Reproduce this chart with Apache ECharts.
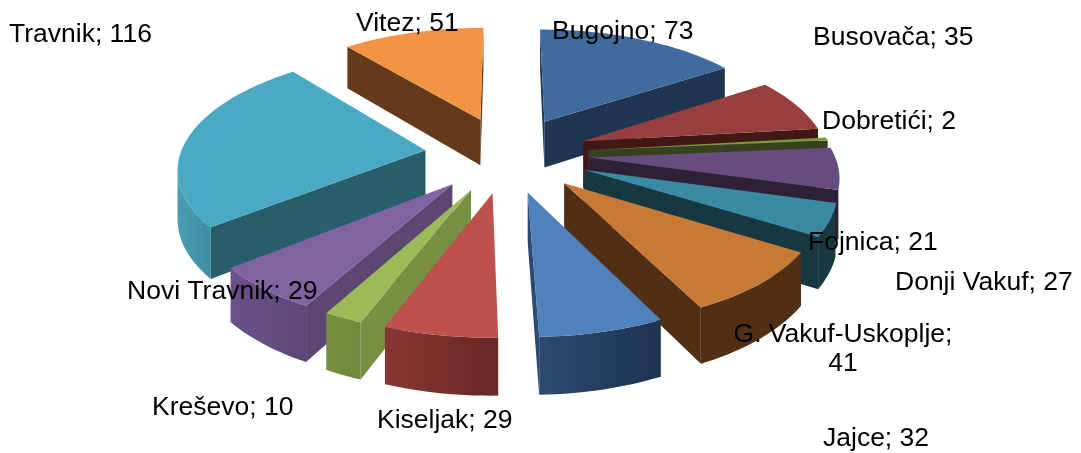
<!DOCTYPE html>
<html><head><meta charset="utf-8">
<style>html,body{margin:0;padding:0;background:#fff}#c{width:1081px;height:453px}</style>
<script src="https://cdn.jsdelivr.net/npm/echarts@6/dist/echarts.min.js"></script>
</head><body><div id="c"></div>
<script>
const names = ['Bugojno','Busovača','Dobretići','Donji Vakuf','Fojnica','G. Vakuf-Uskoplje','Jajce','Kiseljak','Kreševo','Novi Travnik','Travnik','Vitez'];
const values = [73,35,2,27,21,41,32,29,10,29,116,51];
const topColors = ['#3F6B9E','#963F3D','#7A9A3F','#664C7F','#3A8AA3','#C77935','#4F81BD','#BE504D','#9BBB59','#8064A2','#4AAAC4','#F39444'];
const cutColors = ['#1F3551','#421816','#36411F','#2D2136','#173841','#512F15','#2A4A70','#6E2C2A','#779044','#5C4672','#285E6C','#643A1B'];
const outerRight = ['#2A4A70','#5A2624','#4A5C28','#5C4672','#173841','#512F15','#1E3350','#672825','#6F8A3C','#5E4876','#3F8DA2','#C77A38'];
const outerLeft  = ['#2A4A70','#5A2624','#4A5C28','#5C4672','#173841','#512F15','#2D4A70','#893633','#768E42','#6B5189','#4A9DB4','#C77A38'];
const labelTexts = names.map((n,i)=>n+'; '+values[i]);
labelTexts[5] = names[5]+';\n'+values[5];
const labelAnchors = [[552,32,'left'],[813,38,'left'],[822,122,'left'],[895,283,'left'],[808,243,'left'],[843,349,'center'],[823,439,'left'],[377,421,'left'],[152,408,'left'],[127,292,'left'],[9,35,'left'],[356,24,'left']];

const view = {cx:507, cy:154, A:245, B:113, H:47.5, k:0.136, explode:0.336, wallStart:1.87, fontSize:26.5};
const total = values.reduce((a,b)=>a+b,0);
const slices = []; let acc = 0;
values.forEach((v,i)=>{
  const a0 = acc/total*2*Math.PI; acc += v;
  const a1 = acc/total*2*Math.PI; const m=(a0+a1)/2;
  slices.push({i,a0,a1,ox:Math.sin(m)*view.explode,oz:-Math.cos(m)*view.explode});
});
const order = slices.slice().sort((p,q)=>p.oz-q.oz);
function proj(x,z,h){const s=1/(1-view.k*z);return [view.cx+view.A*x*s, view.cy+view.B*z*s+h*view.H*s];}
function poly(points,fill,z2){return {type:'polygon',z2,shape:{points},style:{fill,stroke:'transparent',lineWidth:0}};}
function renderItem(params){
  const sl = order[params.dataIndex], i=sl.i, base=params.dataIndex*1000, children=[];
  const P=a=>[sl.ox+Math.sin(a),sl.oz-Math.cos(a)], O=[sl.ox,sl.oz];
  const n=Math.max(2,Math.ceil((sl.a1-sl.a0)/0.03));
  const arc=[];
  for(let j=0;j<=n;j++){arc.push(sl.a0+(sl.a1-sl.a0)*j/n);}
  const top=[proj(O[0],O[1],0)].concat(arc.map(a=>proj(P(a)[0],P(a)[1],0)));
  const mid=P((sl.a0+sl.a1)/2), mS=proj(mid[0],mid[1],0), oS=proj(O[0],O[1],0);
  [sl.a0,sl.a1].forEach((a,k)=>{
    const p=P(a), pS=proj(p[0],p[1],0);
    const side=(pS[0]-oS[0])*(mS[1]-oS[1])-(pS[1]-oS[1])*(mS[0]-oS[0]);
    const down=(pS[0]-oS[0]);
    if(side*down<0){children.push(poly([oS,pS,proj(p[0],p[1],1),proj(O[0],O[1],1)],cutColors[i],base+k));}
  });
  const vis=[];
  for(let j=0;j<n;j++){
    const p=proj(P(arc[j])[0],P(arc[j])[1],0), q=proj(P(arc[j+1])[0],P(arc[j+1])[1],0);
    if(q[0]<p[0] && arc[j]>=view.wallStart){ if(!vis.length)vis.push(arc[j]); vis.push(arc[j+1]); }
  }
  if(vis.length){
    const t=vis.map(a=>proj(P(a)[0],P(a)[1],0)), b=vis.map(a=>proj(P(a)[0],P(a)[1],1)).reverse();
    const xs=t.concat(b).map(q=>q[0]);
    const fill=new echarts.graphic.LinearGradient(Math.min(...xs),0,Math.max(...xs),0,[{offset:0,color:outerLeft[i]},{offset:1,color:outerRight[i]}],true);
    children.push(poly(t.concat(b),fill,base+10));
  }
  children.push(poly(top,topColors[i],base+900));
  return {type:'group',children};
}
const chart=echarts.init(document.getElementById('c'),null,{renderer:'canvas'});
chart.setOption({
  animation:false,backgroundColor:'#fff',
  series:[{type:'custom',coordinateSystem:'none',renderItem,data:order.map(s=>values[s.i]),silent:true}],
  graphic:labelTexts.map((t,i)=>({type:'text',z:100,x:labelAnchors[i][0],y:labelAnchors[i][1],
    style:{text:t,fill:'#000',font:view.fontSize+'px "Liberation Sans", Arial, sans-serif',textAlign:labelAnchors[i][2],textVerticalAlign:'middle',lineHeight:29}}))
});
</script></body></html>
